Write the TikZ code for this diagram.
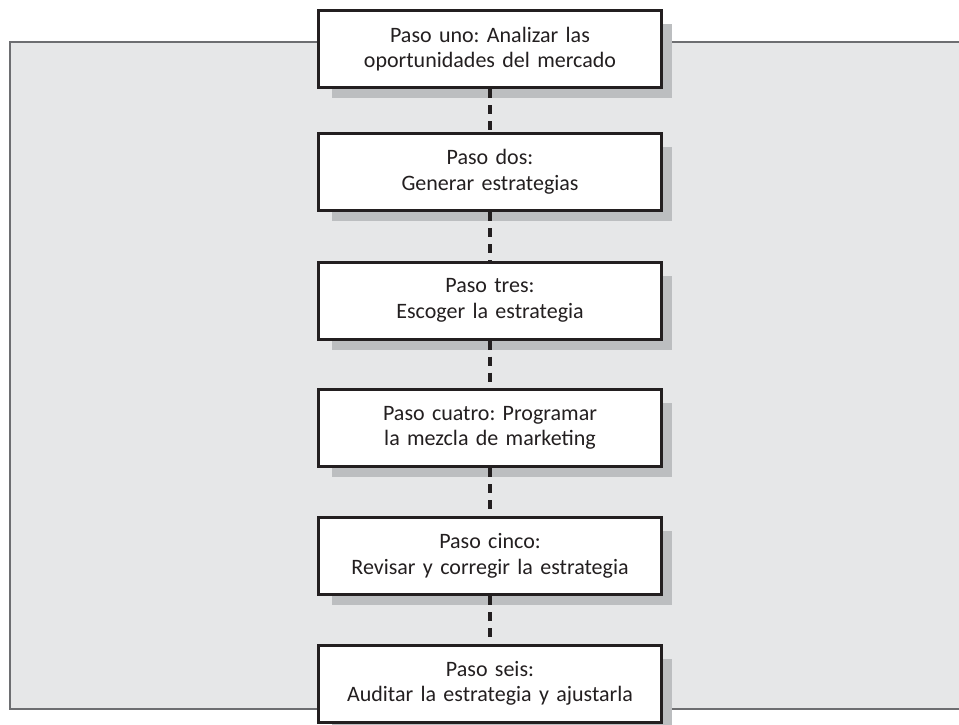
\documentclass[tikz,border=0pt]{standalone}
\usepackage{fontspec}
\setmainfont{Carlito}
\usetikzlibrary{backgrounds}
\definecolor{panelfill}{HTML}{E6E7E8}
\definecolor{panelline}{HTML}{6D6E71}
\definecolor{shadowc}{HTML}{BCBEC0}
\definecolor{ink}{HTML}{231F20}
\tikzset{
  stepbox/.style={draw=ink, fill=white, line width=3pt, minimum width=343pt, minimum height=77pt,
    text width=335pt, align=center, inner sep=0pt, text=ink,
    font=\frenchspacing\fontsize{22}{25.5}\selectfont},
  link/.style={draw=ink, line width=4pt, dash pattern=on 9pt off 7pt},
  boxshadow/.style={fill=shadowc},
}
\begin{document}
\begin{tikzpicture}[x=1pt,y=-1pt]
\useasboundingbox (0,0) rectangle (959,725);
\node[stepbox] (s1) at (490,49) {Paso uno: Analizar las\\oportunidades del mercado};
\node[stepbox] (s2) at (490,172) {Paso dos:\\Generar estrategias};
\node[stepbox] (s3) at (490,300.5) {Paso tres:\\Escoger la estrategia};
\node[stepbox] (s4) at (490,428) {Paso cuatro: Programar\\la mezcla de marketing};
\node[stepbox] (s5) at (490,556) {Paso cinco:\\Revisar y corregir la estrategia};
\node[stepbox] (s6) at (490,683.5) {Paso seis:\\Auditar la estrategia y ajustarla};
\begin{pgfonlayer}{background}
  \fill[panelfill] (10,42) rectangle (970,709);
  \draw[panelline, line width=2.5pt] (970,42) -- (10,42) -- (10,709) -- (970,709);
  \foreach \n in {s1,s2,s3,s4,s5,s6}{
    \fill[boxshadow] ([xshift=15pt,yshift=-15pt]\n.north west) rectangle ([xshift=9pt,yshift=-9pt]\n.south east);
  }
\end{pgfonlayer}
\draw[link] (s1.south) -- (s2.north);
\draw[link] (s2.south) -- (s3.north);
\draw[link] (s3.south) -- (s4.north);
\draw[link] (s4.south) -- (s5.north);
\draw[link] (s5.south) -- (s6.north);
\end{tikzpicture}
\end{document}
